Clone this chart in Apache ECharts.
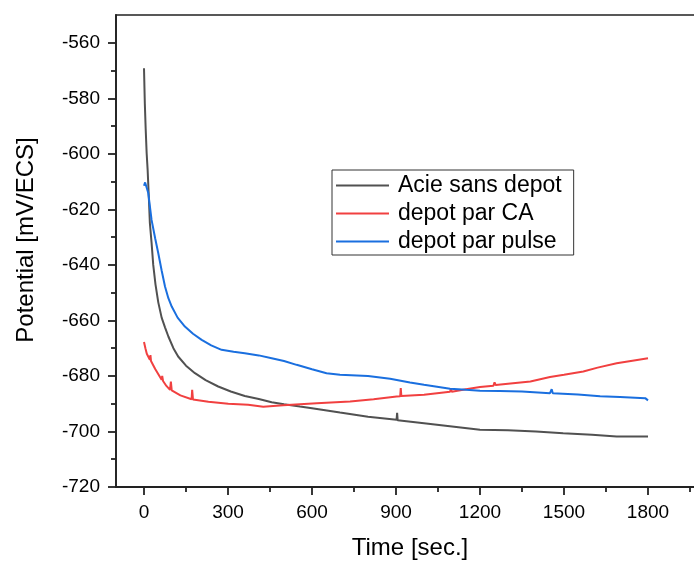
<!DOCTYPE html>
<html>
<head>
<meta charset="utf-8">
<script src="https://cdn.jsdelivr.net/npm/echarts@6/dist/echarts.min.js"></script>
<style>html,body{margin:0;padding:0;background:#fff}#c{width:694px;height:561px}</style>
</head>
<body>
<div id="c"></div>
<script>
// ---- data ----
const seriesNames = ['Acie sans depot', 'depot par CA', 'depot par pulse'];

const blackTime = [0,3,6,9.5,13,17,21,27,33,41,51,63,75,87,105,122,150,182,220,265,310,360,410,456,500,557,600,700,800,902,904,906,1000,1100,1200,1300,1400,1497,1600,1688,1800];
const blackVal  = [-569.2,-582,-591,-599.8,-605.8,-615,-625,-632,-640,-647,-653.5,-659,-662.5,-665.8,-670,-673,-676.3,-679,-681.5,-683.8,-685.6,-687.2,-688.3,-689.5,-690.2,-691,-691.6,-693.2,-694.7,-695.8,-693.3,-696,-697,-698.2,-699.4,-699.6,-700,-700.6,-701.2,-701.8,-701.8];

const redTime = [0,5,10,21,23,25,40,63,65,68,80,93,96,99,130,170,172,175,230,301,372,426,497,617,736,820,902,915,917,919,1000,1093,1096,1099,1150,1200,1248,1252,1256,1300,1380,1450,1500,1569,1620,1688,1750,1800];
const redVal  = [-667.8,-670,-672,-674.2,-672.5,-674.6,-677.5,-681.4,-680,-681.8,-683.6,-685,-682,-685.2,-687,-688.4,-685,-688.5,-689.3,-690,-690.4,-691.1,-690.6,-689.8,-689.2,-688.4,-687.4,-687.3,-684.4,-687.2,-686.8,-685.7,-684.6,-685.7,-684.8,-684,-683.5,-682.3,-683.3,-682.8,-682,-680.4,-679.6,-678.4,-677,-675.4,-674.4,-673.6];

const blueTime = [0,4,9,15,27,40,51,63,75,87,99,120,146,175,206,240,277,320,360,410,456,500,545,600,652,700,800,879,950,1000,1093,1150,1200,1271,1350,1450,1456,1460,1550,1629,1700,1790,1800];
const blueVal  = [-611.5,-610.3,-610.2,-614,-623.8,-630.5,-635.8,-642,-647.8,-652,-655,-659,-662.2,-664.8,-667,-669,-670.6,-671.3,-671.8,-672.6,-673.6,-674.6,-676,-677.6,-679,-679.6,-680,-681,-682.4,-683.2,-684.6,-685,-685.3,-685.4,-685.6,-686.2,-684.8,-686.2,-686.7,-687.3,-687.6,-688,-688.8];

const xMajorTicks = [0,300,600,900,1200,1500,1800];
const xMinorTicks = [150,450,750,1050,1350,1650,1950];
const yMajorTicks = [-720,-700,-680,-660,-640,-620,-600,-580,-560];
const yMinorTicks = [-710,-690,-670,-650,-630,-610,-590,-570];

// ---- chart ----
const pair = (t, v) => t.map((x, i) => [x, v[i]]);
const FONT = 'Liberation Sans, Arial, sans-serif';
const AX = '#222';
const plain = v => String(v);
const chart = echarts.init(document.getElementById('c'), null, {renderer: 'canvas'});

const xBase = {type: 'value', min: -100, max: 2000, gridIndex: 0, position: 'bottom', splitLine: {show: false}};
const yBase = {type: 'value', min: -720, max: -550, gridIndex: 0, position: 'left', splitLine: {show: false}};

chart.setOption({
  animation: false,
  backgroundColor: '#fff',
  grid: {left: 116, top: 15, right: -10, bottom: 74, containLabel: false, outerBoundsMode: 'none',
         show: true, borderColor: AX, borderWidth: 1.5, backgroundColor: 'transparent'},
  legend: {
    orient: 'vertical', left: 332, top: 170,
    data: seriesNames,
    icon: 'rect',
    itemWidth: 53, itemHeight: 2.2, itemGap: 5,
    padding: [4, 12, 2, 4],
    borderColor: '#333', borderWidth: 1,
    textStyle: {fontFamily: FONT, fontSize: 23, color: '#000', padding: [0, 0, 0, 4]}
  },
  xAxis: [
    Object.assign({}, xBase, {
      name: 'Time [sec.]', nameLocation: 'middle', nameGap: 49,
      nameTextStyle: {fontFamily: FONT, fontSize: 24, color: '#000'},
      axisLine: {show: true, onZero: false, lineStyle: {color: AX, width: 1.8}},
      axisTick: {show: true, inside: false, length: 8, customValues: xMajorTicks, lineStyle: {color: AX, width: 1.8}},
      axisLabel: {show: true, margin: 16, customValues: xMajorTicks, formatter: plain, fontFamily: FONT, fontSize: 19, color: '#000'}
    }),
    Object.assign({}, xBase, {
      axisLine: {show: false, onZero: false},
      axisTick: {show: true, inside: false, length: 5, customValues: xMinorTicks, lineStyle: {color: AX, width: 1.8}},
      axisLabel: {show: false}
    })
  ],
  yAxis: [
    Object.assign({}, yBase, {
      name: 'Potential [mV/ECS]', nameLocation: 'middle', nameGap: 78,
      nameTextStyle: {fontFamily: FONT, fontSize: 24, color: '#000', padding: [0, 0, 0, 22]},
      axisLine: {show: true, onZero: false, lineStyle: {color: AX, width: 1.8}},
      axisTick: {show: true, inside: false, length: 8, customValues: yMajorTicks, lineStyle: {color: AX, width: 1.8}},
      axisLabel: {show: true, margin: 16, customValues: yMajorTicks, formatter: plain, fontFamily: FONT, fontSize: 19, color: '#000'}
    }),
    Object.assign({}, yBase, {
      axisLine: {show: false, onZero: false},
      axisTick: {show: true, inside: false, length: 5, customValues: yMinorTicks, lineStyle: {color: AX, width: 1.8}},
      axisLabel: {show: false}
    })
  ],
  series: [
    {name: seriesNames[0], type: 'line', xAxisIndex: 0, yAxisIndex: 0, data: pair(blackTime, blackVal), symbol: 'none', lineStyle: {color: '#515151', width: 2}, itemStyle: {color: '#515151'}},
    {name: seriesNames[1], type: 'line', xAxisIndex: 0, yAxisIndex: 0, data: pair(redTime, redVal), symbol: 'none', lineStyle: {color: '#F14040', width: 2}, itemStyle: {color: '#F14040'}},
    {name: seriesNames[2], type: 'line', xAxisIndex: 0, yAxisIndex: 0, data: pair(blueTime, blueVal), symbol: 'none', lineStyle: {color: '#1A6FDF', width: 2}, itemStyle: {color: '#1A6FDF'}}
  ]
});
</script>
</body>
</html>
